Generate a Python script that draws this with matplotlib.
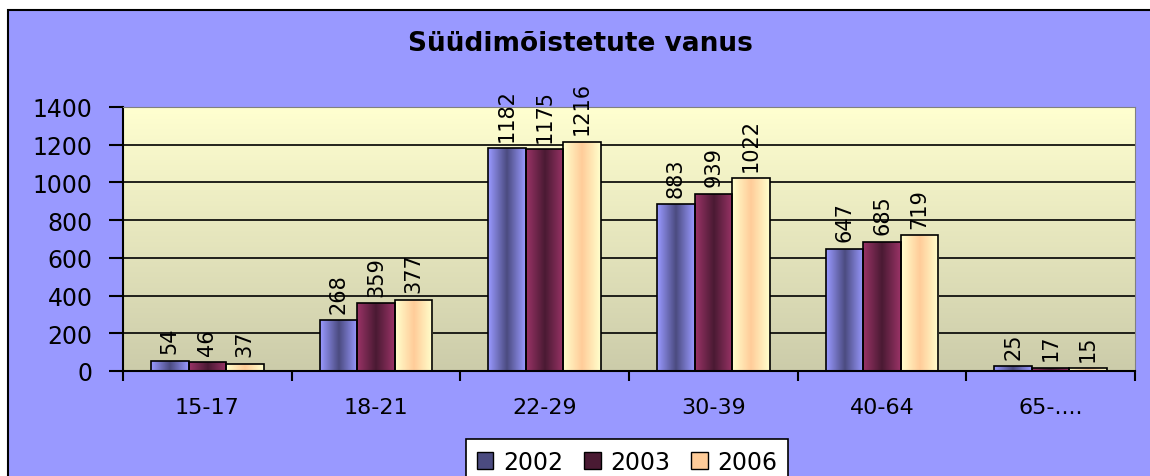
import numpy as np
import matplotlib.pyplot as plt
from matplotlib.patches import Rectangle, Patch
from matplotlib.colors import LinearSegmentedColormap

plt.rcParams['font.family'] = ['DejaVu Sans']

KATEGOORIAD = ['15-17', '18-21', '22-29', '30-39', '40-64', '65-....']
AASTAD = ['2002', '2003', '2006']
V2002 = [54, 268, 1182, 883, 647, 25]
V2003 = [46, 359, 1175, 939, 685, 17]
V2006 = [37, 377, 1216, 1022, 719, 15]
VARVID = [['#9999ff', '#4b4b80', '#9999ff'],
          ['#993366', '#4a1a33', '#993366'],
          ['#ffffcc', '#ffcc99', '#ffffcc']]

fig = plt.figure(figsize=(11.5, 4.77), dpi=100)
fig.patch.set_facecolor('white')
taust_rect = Rectangle((8 / 1150, -0.05), 1.2, 1.05 - 11 / 477, transform=fig.transFigure,
                       facecolor='#9999ff', edgecolor='black', linewidth=1.5, zorder=-5)
fig.add_artist(taust_rect)

ax = fig.add_axes([123 / 1150, 105 / 477, 1012 / 1150, 264 / 477])
ax.set_facecolor('none')

# taust gradient
taust = LinearSegmentedColormap.from_list('taust', ['#ccccaa', '#ffffd0'])
ax.imshow(np.linspace(0, 1, 100).reshape(-1, 1), cmap=taust, aspect='auto', origin='lower',
          extent=(0, 6, 0, 1400), zorder=0)

ax.set_yticks(np.arange(0, 1401, 200))
for y in np.arange(200, 1201, 200):
    ax.axhline(y, color='black', linewidth=1.2, zorder=1)

ax.set_xticks(np.arange(0, 7))
ax.set_xticklabels([])
ax.set_xticks(np.arange(6) + 0.5, minor=True)
ax.set_xticklabels(KATEGOORIAD, minor=True, fontsize=16)
ax.tick_params(axis='x', which='minor', length=0, pad=19)
ax.tick_params(axis='x', which='major', length=7, width=1.5, direction='out')
ax.tick_params(axis='y', length=10, width=1.5, direction='out', labelsize=17, pad=12)
ax.spines['top'].set_color('#808080')
ax.spines['right'].set_color('#808080')
ax.spines['left'].set_linewidth(1.5)
ax.spines['bottom'].set_linewidth(1.5)

laius = 1 / 4.5
x = np.arange(6)
for i, vaartused in enumerate([V2002, V2003, V2006]):
    cmap = LinearSegmentedColormap.from_list('b%d' % i, VARVID[i])
    pos = x + 0.5 + (i - 1) * laius
    bars = ax.bar(pos, vaartused, laius, facecolor='none', edgecolor='black', linewidth=1.2, zorder=3)
    for b, v in zip(bars, vaartused):
        im = ax.imshow(np.linspace(0, 1, 50).reshape(1, -1), cmap=cmap, aspect='auto',
                       extent=(b.get_x(), b.get_x() + laius, 0, v), zorder=2)
        im.set_clip_path(b)
        ax.text(b.get_x() + laius / 2, v + 40, str(v), rotation=90, ha='center', va='bottom',
                fontsize=15)
ax.set_xlim(0, 6)
ax.set_ylim(0, 1400)

fig.text(580 / 1150, 1 - 44 / 477, 'Süüdimõistetute vanus', ha='center', va='center',
         fontsize=19, fontweight='bold')

kasitsejad = [Patch(facecolor=VARVID[i][1], edgecolor='black') for i in range(3)]
leg = fig.legend(kasitsejad, AASTAD, loc='upper center', bbox_to_anchor=(627 / 1150, 1 - 440 / 477),
                 ncol=3, fontsize=17, frameon=True, fancybox=False, framealpha=1,
                 handlelength=0.7, handleheight=0.7, handletextpad=0.4, columnspacing=0.9,
                 borderpad=0.45, borderaxespad=0)
leg.get_frame().set_edgecolor('black')
leg.get_frame().set_linewidth(1.2)

fig.savefig('out.png', dpi=100)
